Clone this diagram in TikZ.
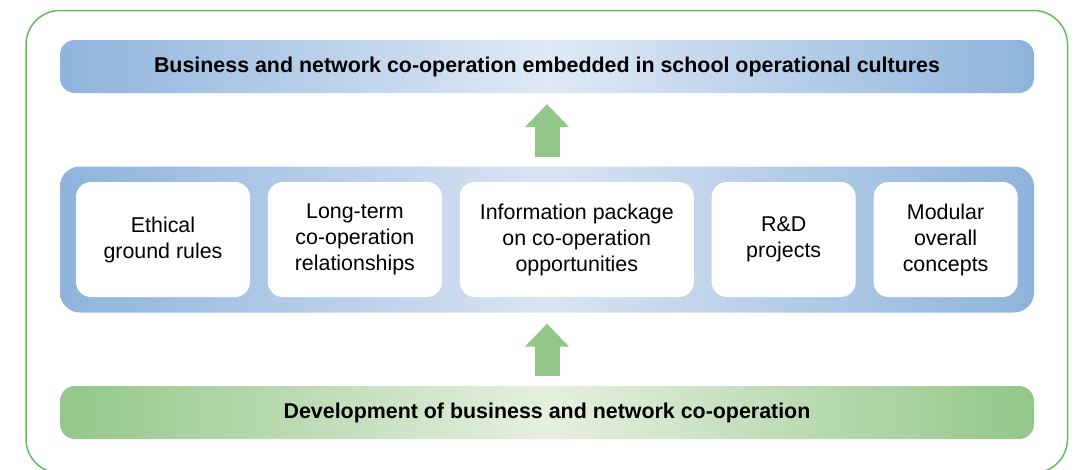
\documentclass[tikz,border=0pt]{standalone}
\usepackage{fontspec}
\setmainfont{Liberation Sans}
\usetikzlibrary{positioning,arrows.meta}

\definecolor{barblue}{HTML}{8EB4DC}
\definecolor{paleblue}{HTML}{E0E9F5}
\definecolor{bandpale}{HTML}{D9E4F2}
\definecolor{bargreen}{HTML}{93C789}
\definecolor{palegreen}{HTML}{E6F0E0}
\definecolor{framegreen}{HTML}{5DBE5D}
\definecolor{arrowgreen}{HTML}{93C78A}

\tikzset{
  titlebar/.style={rectangle, rounded corners=15pt, minimum width=974pt,
    minimum height=53pt, inner sep=0pt,
    font=\fontsize{21.4}{26}\selectfont\bfseries},
  bluebar/.style={titlebar, left color=barblue, right color=barblue, middle color=paleblue},
  greenbar/.style={titlebar, left color=bargreen, right color=bargreen, middle color=palegreen},
  band/.style={rectangle, rounded corners=20pt, minimum width=974pt,
    minimum height=146pt, left color=barblue, right color=barblue, middle color=bandpale},
  item/.style={rectangle, rounded corners=15pt, fill=white, minimum height=115pt,
    inner sep=0pt, align=center, font=\fontsize{21.4}{26}\selectfont},
  uparrow/.style={draw=arrowgreen, line width=25pt,
    -{Triangle[length=23pt, width=44pt, line width=1pt]}}
}

\begin{document}
\begin{tikzpicture}[x=1pt, y=-1pt, node distance=17.5pt]
    \useasboundingbox (0,0) rectangle (1076,469);
    \draw[framegreen, line width=1.5pt, rounded corners=34pt] (26,10.5) rectangle (1067.5,473);

    % Bars
    \node[bluebar] (goal) at (547,66.5) {Business and network co-operation embedded in school operational cultures};
    \node[band] (band) at (547,239.5) {};
    \node[greenbar] (base) at (547,412.5) {Development of business and network co-operation};

    % Items
    \node[item, minimum width=174pt] (ethics) at (163,239.5) {Ethical\\ground rules};
    \node[item, minimum width=174pt] (longterm) [right=of ethics] {Long-term\\co-operation\\relationships};
    \node[item, minimum width=234pt] (info) [right=of longterm] {Information package\\on co-operation\\opportunities};
    \node[item, minimum width=144pt] (rnd) [right=of info] {R\&D\\projects};
    \node[item, minimum width=144pt] (modular) [right=of rnd] {Modular\\overall\\concepts};

    % Arrows
    \draw[uparrow, shorten <=9pt, shorten >=11pt] (band.north) -- (goal.south);
    \draw[uparrow, shorten <=9.5pt, shorten >=11pt] (base.north) -- (band.south);
\end{tikzpicture}
\end{document}
